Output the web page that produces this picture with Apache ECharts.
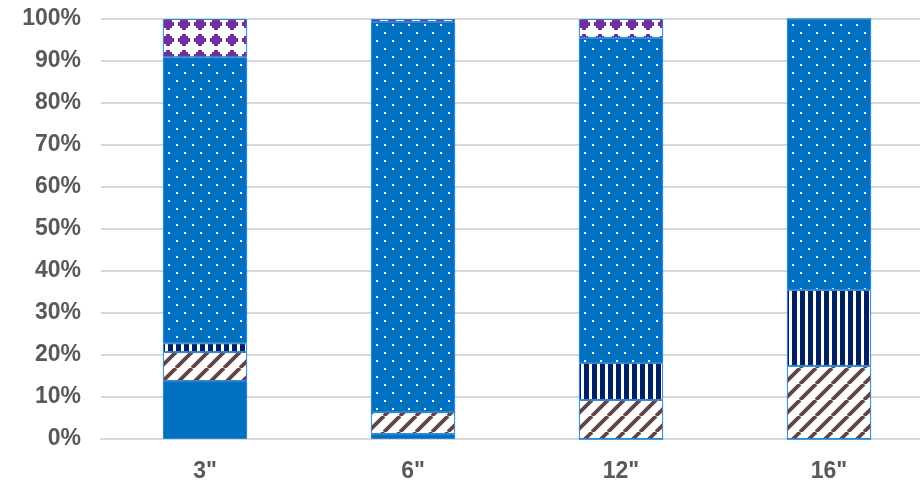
<!DOCTYPE html>
<html>
<head>
<meta charset="utf-8">
<script src="https://cdn.jsdelivr.net/npm/echarts@6/dist/echarts.min.js"></script>
<style>
  html, body { margin: 0; padding: 0; background: #fff; }
  #chart { width: 920px; height: 480px; }
</style>
</head>
<body>
<div id="chart"></div>
<script>
// Sizes (inches) along the category axis
const categories = ['3"', '6"', '12"', '16"'];

// Stacked shares, in percent, bottom to top
const solidShare   = [13.8, 1.2, 0, 0];
const hatchShare   = [6.9, 5.2, 9.3, 17.4];
const stripeShare  = [2.1, 0, 8.8, 18.1];
const dottedShare  = [68.1, 92.9, 77.4, 64.5];
const diamondShare = [9.1, 0.7, 4.5, 0];

const yTicks = [0, 10, 20, 30, 40, 50, 60, 70, 80, 90, 100];

const BLUE = '#0070C0';
const NAVY = '#002060';
const BROWN = '#634343';
const PURPLE = '#7030A0';

function tile(w, h, draw) {
  const c = document.createElement('canvas');
  c.width = w; c.height = h;
  draw(c.getContext('2d'), w, h);
  return { image: c, repeat: 'repeat' };
}

// Blue with small white dots, staggered rows
const dotFill = tile(16, 16, (g) => {
  g.fillStyle = BLUE; g.fillRect(0, 0, 16, 16);
  g.fillStyle = '#ffffff';
  g.fillRect(0, 0, 2, 2);
  g.fillRect(8, 8, 2, 2);
});

// Upward diagonal hatch on white
const hatchFill = tile(16, 16, (g) => {
  g.fillStyle = '#ffffff'; g.fillRect(0, 0, 16, 16);
  g.strokeStyle = BROWN; g.lineWidth = 3.8;
  for (const x of [-16, 0, 16]) {
    g.beginPath(); g.moveTo(x, 16); g.lineTo(x + 16, 0); g.stroke();
  }
});

// Vertical navy stripes on white
const stripeFill = tile(8, 8, (g) => {
  g.fillStyle = '#ffffff'; g.fillRect(0, 0, 8, 8);
  g.fillStyle = NAVY; g.fillRect(0, 0, 5, 8);
});

// Purple stepped diamonds on white
const diamondFill = tile(16, 16, (g) => {
  g.fillStyle = '#ffffff'; g.fillRect(0, 0, 16, 16);
  g.fillStyle = PURPLE;
  g.fillRect(6, 2, 4, 12);
  g.fillRect(2, 6, 12, 4);
  g.fillRect(4, 4, 8, 8);
});

const stackSeries = [
  ['Solid', solidShare, BLUE],
  ['Hatched', hatchShare, hatchFill],
  ['Striped', stripeShare, stripeFill],
  ['Dotted', dottedShare, dotFill],
  ['Diamond', diamondShare, diamondFill]
].map(([name, data, fill]) => ({
  name,
  type: 'bar',
  stack: 'share',
  data,
  barWidth: '40.5%',
  itemStyle: { color: fill, borderColor: '#2A84D2', borderWidth: 1 },
  emphasis: { disabled: true }
}));

const chart = echarts.init(document.getElementById('chart'), null, { renderer: 'canvas' });
chart.setOption({
  animation: false,
  grid: {
    left: 101, right: -13, top: 19, bottom: 41,
    containLabel: false, outerBoundsMode: 'none'
  },
  xAxis: {
    type: 'category',
    data: categories,
    axisTick: { show: false },
    axisLine: { show: true, lineStyle: { color: '#d9d9d9', width: 2 } },
    axisLabel: {
      color: '#595959', fontFamily: 'Liberation Sans, Arial, sans-serif',
      fontWeight: 'bold', fontSize: 23, margin: 21
    }
  },
  yAxis: {
    type: 'value',
    min: yTicks[0],
    max: yTicks[yTicks.length - 1],
    interval: 10,
    axisLine: { show: false },
    axisTick: { show: false },
    splitLine: { lineStyle: { color: '#d9d9d9', width: 2 } },
    axisLabel: {
      color: '#595959', fontFamily: 'Liberation Sans, Arial, sans-serif',
      fontWeight: 'bold', fontSize: 23, margin: 20,
      formatter: (v) => v + '%'
    }
  },
  series: stackSeries
});
</script>
</body>
</html>
